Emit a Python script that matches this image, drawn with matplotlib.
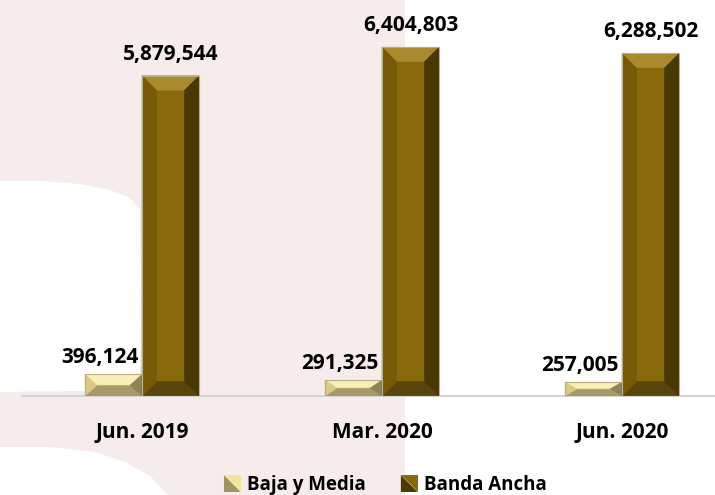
import matplotlib
matplotlib.use("Agg")
import matplotlib.pyplot as plt
from matplotlib.patches import Polygon, Rectangle
from matplotlib.transforms import IdentityTransform
from matplotlib.legend_handler import HandlerBase
import numpy as np

categories = ["Jun. 2019", "Mar. 2020", "Jun. 2020"]
baja_media = [396124, 291325, 257005]
banda_ancha = [5879544, 6404803, 6288502]
series_names = ["Baja y Media", "Banda Ancha"]

W, H = 715, 495
DPI = 100
FONT = "Open Sans"
plt.rcParams["font.family"] = [FONT, "DejaVu Sans"]

fig = plt.figure(figsize=(W / DPI, H / DPI), dpi=DPI)
fig.patch.set_facecolor("white")


def px(x, y):
    return (x / W, 1 - y / H)


# decorative background
pink = "#F6ECEC"
fig.patches.append(Rectangle((0, 0), 405 / W, 1, transform=fig.transFigure,
                             facecolor=pink, edgecolor="none", zorder=-10))
blob1 = [(0, 181), (40, 181), (80, 184), (110, 190), (130, 198), (140, 210),
         (141, 300), (140, 384), (125, 389), (80, 391), (0, 392)]
blob2 = [(0, 447), (50, 447), (95, 452), (125, 462), (150, 476), (168, 495), (0, 495)]
for b in (blob1, blob2):
    fig.patches.append(Polygon([px(*p) for p in b], closed=True, transform=fig.transFigure,
                               facecolor="white", edgecolor="none", zorder=-9))

ax = fig.add_axes([22 / W, 1 - 396 / H, 720 / W, 396 / H])
ax.set_facecolor("none")
ax.set_xlim(-0.5, 2.5)
ax.set_ylim(0, 7.27e6)

x = np.arange(len(categories))
bw = 0.2375

dark = dict(face="#8A690B", top="#A98A2E", bottom="#5A460C", left="#775A08", right="#483804",
            leg_hi="#8A690B", leg_lo="#4C3B07")
light = dict(face="#F2E397", top="#F9EEB6", bottom="#A8996A", left="#D9C888", right="#8F8159",
             leg_hi="#F2E49A", leg_lo="#9E9468")

bars_l = ax.bar(x - bw / 2, baja_media, bw, color=light["face"], edgecolor="none", zorder=2)
bars_d = ax.bar(x + bw / 2, banda_ancha, bw, color=dark["face"], edgecolor="none", zorder=2)


def bevel(bar, cols, size=15):
    x0, y0 = bar.get_x(), bar.get_y()
    x1, y1 = x0 + bar.get_width(), y0 + bar.get_height()
    (X0, Y0), (X1, Y1) = ax.transData.transform([(x0, y0), (x1, y1)])
    bx = min(size, (X1 - X0) / 2 - 4)
    by = min(size, (Y1 - Y0) / 2)
    A, B, C, D = (X0, Y0), (X1, Y0), (X1, Y1), (X0, Y1)
    a, b, c, d = (X0 + bx, Y0 + by), (X1 - bx, Y0 + by), (X1 - bx, Y1 - by), (X0 + bx, Y1 - by)
    polys = [([D, C, c, d], cols["top"]), ([A, B, b, a], cols["bottom"]),
             ([A, a, d, D], cols["left"]), ([B, C, c, b], cols["right"]),
             ([a, b, c, d], cols["face"])]
    for pts, col in polys:
        ax.add_patch(Polygon(pts, closed=True, transform=IdentityTransform(),
                             facecolor=col, edgecolor=col, linewidth=0.3, zorder=3))
    ax.add_patch(Polygon([A, B, C, D], closed=True, transform=IdentityTransform(),
                         facecolor="none", edgecolor="#BBAE82", linewidth=0.8, zorder=4))


for bar in bars_l:
    bevel(bar, light, size=12)
for bar in bars_d:
    bevel(bar, dark, size=15)

fs = 15
for bar, v in zip(bars_d, banda_ancha):
    ax.annotate(f"{v:,}", (bar.get_x() + bar.get_width() / 2, v), xytext=(0, 11.5),
                textcoords="offset points", ha="center", va="baseline",
                fontsize=fs, fontweight="bold", color="black", zorder=5)
for bar, v in zip(bars_l, baja_media):
    ax.annotate(f"{v:,}", (bar.get_x() + bar.get_width() / 2, v), xytext=(-10, 8),
                textcoords="offset points", ha="center", va="baseline",
                fontsize=fs, fontweight="bold", color="black", zorder=5)

for s in ["top", "right", "left"]:
    ax.spines[s].set_visible(False)
ax.spines["bottom"].set_color("#D3D3D3")
ax.spines["bottom"].set_linewidth(1.5)
ax.spines["bottom"].set_zorder(1)
ax.set_yticks([])
ax.set_xticks(x)
ax.set_xticklabels(categories, fontsize=fs, fontweight="bold")
ax.tick_params(axis="x", length=0, pad=19)


class BevelHandler(HandlerBase):
    def __init__(self, cols):
        super().__init__()
        self.cols = cols

    def create_artists(self, legend, orig_handle, xdescent, ydescent, width, height, fontsize, trans):
        s = min(width, height)
        x0, y0 = -xdescent + (width - s) / 2, -ydescent + (height - s) / 2
        hi = Polygon([(x0, y0 + s), (x0 + s, y0 + s), (x0 + s, y0)], closed=True,
                     facecolor=self.cols["leg_hi"], edgecolor="none", transform=trans)
        lo = Polygon([(x0, y0), (x0, y0 + s), (x0 + s, y0)], closed=True,
                     facecolor=self.cols["leg_lo"], edgecolor="none", transform=trans)
        return [lo, hi]


legend = fig.legend([bars_l, bars_d], series_names, loc="center",
                    bbox_to_anchor=px(385, 485), ncol=2, frameon=False,
                    handlelength=1.0, handleheight=1.0, handletextpad=0.3,
                    columnspacing=1.8, prop=dict(family=FONT, weight="bold", size=13.5),
                    handler_map={bars_l: BevelHandler(light), bars_d: BevelHandler(dark)})

fig.savefig("out.png", dpi=DPI)
